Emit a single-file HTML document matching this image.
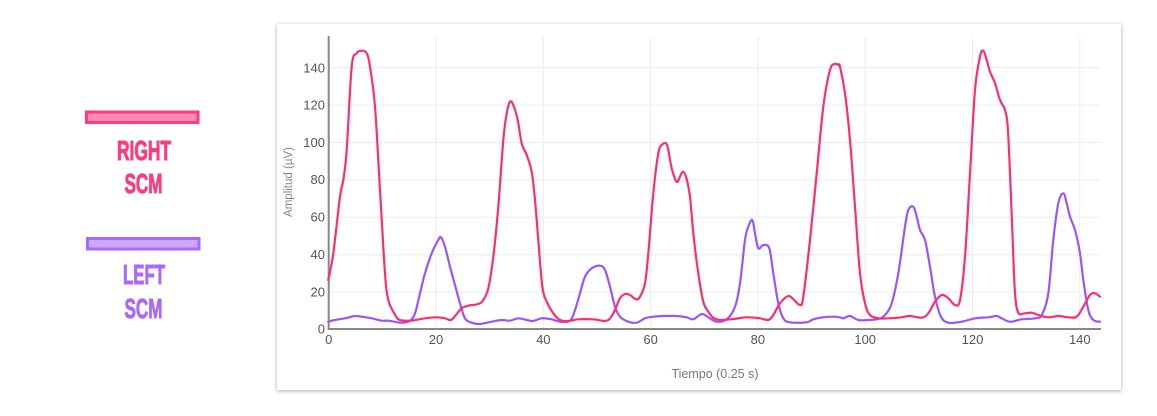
<!DOCTYPE html>
<html><head><meta charset="utf-8"><style>
html,body{margin:0;padding:0;background:#fff;}
svg{display:block;}
</style></head><body>
<svg id="chart" width="1157" height="416" viewBox="0 0 1157 416" xmlns="http://www.w3.org/2000/svg">
<defs>
<filter id="sh" x="-5%" y="-5%" width="110%" height="115%">
<feGaussianBlur in="SourceAlpha" stdDeviation="2"/>
<feOffset dx="0" dy="1"/>
<feComponentTransfer><feFuncA type="linear" slope="0.35"/></feComponentTransfer>
<feMerge><feMergeNode/><feMergeNode in="SourceGraphic"/></feMerge>
</filter>
</defs>
<rect x="0" y="0" width="1157" height="416" fill="#fff"/>
<!-- legend -->
<rect x="86.5" y="112" width="111.5" height="10.5" fill="#ff8ab3" stroke="#ff3a7e" stroke-width="3"/>
<g font-family="Liberation Sans, sans-serif" font-weight="bold" font-size="28" text-anchor="middle" stroke-width="0.9">
<text x="144" y="160" fill="#ff3a7e" stroke="#ff3a7e" textLength="54" lengthAdjust="spacingAndGlyphs">RIGHT</text>
<text x="143.5" y="193" fill="#ff3a7e" stroke="#ff3a7e" textLength="38" lengthAdjust="spacingAndGlyphs">SCM</text>
<text x="144" y="284" fill="#aa68ff" stroke="#aa68ff" textLength="42" lengthAdjust="spacingAndGlyphs">LEFT</text>
<text x="143.5" y="318" fill="#aa68ff" stroke="#aa68ff" textLength="38" lengthAdjust="spacingAndGlyphs">SCM</text>
</g>
<rect x="87.5" y="238.5" width="111.5" height="10.5" fill="#cda8ff" stroke="#aa68ff" stroke-width="3"/>
<!-- panel -->
<rect x="277" y="24" width="844" height="366" fill="#fff" filter="url(#sh)"/>
<!-- grid -->
<g stroke="#ececec" stroke-width="1">
<line x1="436" y1="37" x2="436" y2="329"/>
<line x1="543.3" y1="37" x2="543.3" y2="329"/>
<line x1="650.6" y1="37" x2="650.6" y2="329"/>
<line x1="757.9" y1="37" x2="757.9" y2="329"/>
<line x1="865.2" y1="37" x2="865.2" y2="329"/>
<line x1="972.5" y1="37" x2="972.5" y2="329"/>
<line x1="1079.8" y1="37" x2="1079.8" y2="329"/>
<line x1="329" y1="292.1" x2="1101" y2="292.1"/>
<line x1="329" y1="254.7" x2="1101" y2="254.7"/>
<line x1="329" y1="217.3" x2="1101" y2="217.3"/>
<line x1="329" y1="179.9" x2="1101" y2="179.9"/>
<line x1="329" y1="142.5" x2="1101" y2="142.5"/>
<line x1="329" y1="105.1" x2="1101" y2="105.1"/>
<line x1="329" y1="67.7" x2="1101" y2="67.7"/>
</g>
<!-- y labels -->
<g font-family="Liberation Sans, sans-serif" font-size="13" fill="#555" text-anchor="end">
<text x="325" y="333.5">0</text>
<text x="325" y="296.5">20</text>
<text x="325" y="259">40</text>
<text x="325" y="221.5">60</text>
<text x="325" y="184">80</text>
<text x="325" y="147">100</text>
<text x="325" y="109.5">120</text>
<text x="325" y="72.5">140</text>
</g>
<g font-family="Liberation Sans, sans-serif" font-size="13" fill="#555" text-anchor="middle">
<text x="328.7" y="344">0</text>
<text x="436" y="344">20</text>
<text x="543.3" y="344">40</text>
<text x="650.6" y="344">60</text>
<text x="757.9" y="344">80</text>
<text x="865.2" y="344">100</text>
<text x="972.5" y="344">120</text>
<text x="1079.8" y="344">140</text>
</g>
<text x="715" y="378" text-anchor="middle" font-family="Liberation Sans, sans-serif" font-size="12.5" fill="#777">Tiempo (0.25 s)</text>
<text transform="translate(292,182) rotate(-90)" text-anchor="middle" font-family="Liberation Sans, sans-serif" font-size="11.5" fill="#888">Amplitud (µV)</text>
<!-- axes -->
<line x1="328.7" y1="36" x2="328.7" y2="330" stroke="#888" stroke-width="2"/>
<line x1="327.7" y1="329" x2="1101" y2="329" stroke="#888" stroke-width="2"/>
<!-- purple series -->
<polyline class="s" fill="none" stroke="#9d52ff" stroke-width="2.2" stroke-linejoin="round" stroke-linecap="round" points="
328.3,321.7 335,320 345,318.3 355,316 361.7,316.7 371.7,318.3 381.7,320.7 388.3,320.7 401.7,322.7 410,320.7 415,313.3 420,293.3 425,273.3 431.7,253.3 438.3,240 441,237.3 445,246.7 450,266.7 455,285 460,303.3 465,318.3 471.7,322.7 480,324 491.7,321.7 501.7,320 510,320.7 518.3,318.3 526.7,320 533.3,321 541.7,318.3 551.7,319.3 560,321.7 570,320.7 575,310 580,293.3 585,276.7 591.7,268.3 600,265.7 605,270 610,286.7 615,306.7 620,316.7 628.3,321.7 636.7,322.7 645,318.3 653.3,316.7 663.3,316 676.7,316 686.7,317.3 693.3,319.3 701.7,314 708.3,317.3 716.7,321.7 726.7,319.3 735,306.7 740,283.3 745,240 748.3,226.7 752.3,220 755,233.3 758.3,248.3 763.3,245 769.3,248.3 773.3,273.3 778.3,303.3 783.3,318.3 790,322.3 806.7,322.3 813.3,319.3 823.3,317.3 833.3,316.7 840,317.3 843.3,318.3 850,316 858.3,320 868.3,320 878.3,319 885,315 891.7,303.3 898.3,273.3 905,226.7 908.3,210 913.3,206.7 916.7,216.7 920,230 925,240 930,266.7 935,296.7 941,316.7 948.3,322.7 961.7,321.7 975,318.3 988.3,317.3 996.7,316 1001.7,318.3 1010,321.7 1021.7,319.3 1035,318.3 1041.7,315 1048.3,293.3 1053.3,240 1058.3,203.3 1063.3,193.3 1066.7,203.3 1070,216.7 1075,230 1080,253.3 1083.3,280 1088.3,310 1093.3,320 1100,321.7"/>
<!-- red series -->
<polyline class="s" fill="none" stroke="#ff2c70" stroke-width="2.2" stroke-linejoin="round" stroke-linecap="round" points="
328.3,280 333.3,253.3 340,196.7 343.3,180 346.7,150 351.7,66.7 356.7,53.3 361.7,50.7 366.7,53.3 370,66.7 375,106.7 380,190 385,273.3 388.3,300 393.3,311.7 398.3,319.3 405,320.7 411.7,320.7 425,318.3 436.7,317.3 445,318.3 451,320 456.7,314 461.7,308.3 468.3,305.7 478.3,304 483.3,300 488.3,288.3 493.3,256.7 498.3,206.7 503.3,140 506.7,113.3 510,101.7 513.3,105 517.7,120 521.7,143.3 526.7,155 531.7,171.7 535,200 538.3,240 542.3,286.7 546.7,301.7 553.3,313.3 560,320 568.3,321 578.3,319.3 593.3,319.3 606.7,320.7 613.3,313.3 620,298.3 625,294 630,295 636,299.3 640,296.7 645,283.3 648.3,253.3 653.3,193.3 658.3,153.3 661.7,145 666,143.3 668.3,150 671.7,168.3 676.7,181.7 680,176.7 682.7,171.7 686,176.7 690,196.7 693.3,233.3 698.3,273.3 703.3,301.7 708.3,311.7 713.3,317.7 720,320 733.3,319 746.7,317.3 760,318.3 768.3,320 773.3,315 780,303.3 788.3,296 793.3,299.3 800,305 803.3,296.7 810,240 816.7,173.3 823.3,106.7 830,70 835,64 838.3,65 840,66.7 845,93.3 850,140 855,206.7 860,273.3 865,303.3 870,315 878.3,318.3 888.3,318.3 901.7,317.3 910,316 921.7,317.7 928.3,313.3 935,301.7 941.7,295 948.3,298.3 955,305 960,300 965,256.7 970,173.3 975,90 980,56.7 983.3,50.7 986.7,60 990,71.7 995,83.3 1000,100 1005,110 1007.7,126.7 1010,173.3 1012.7,240 1015,293.3 1018.3,312.7 1025,313.3 1031.7,312.7 1038.3,315 1048.3,317.3 1058.3,316 1068.3,317.3 1076.7,316.7 1083.3,306.7 1090,295 1095,293.3 1100,296.7"/>
</svg>
<script>
(function(){
  var NS="http://www.w3.org/2000/svg";
  var pls=document.querySelectorAll("polyline.s");
  for(var k=0;k<pls.length;k++){
    var pl=pls[k];
    var nums=pl.getAttribute("points").trim().split(/[\s,]+/).map(Number);
    var p=[];for(var i=0;i<nums.length;i+=2)p.push([nums[i],nums[i+1]]);
    var d="M"+p[0][0]+","+p[0][1];
    for(var i=0;i<p.length-1;i++){
      var p0=p[i>0?i-1:i],p1=p[i],p2=p[i+1],p3=p[i+2<p.length?i+2:i+1];
      var c1x=p1[0]+(p2[0]-p0[0])/6,c1y=p1[1]+(p2[1]-p0[1])/6;
      var c2x=p2[0]-(p3[0]-p1[0])/6,c2y=p2[1]-(p3[1]-p1[1])/6;
      d+=" C"+c1x.toFixed(2)+","+c1y.toFixed(2)+" "+c2x.toFixed(2)+","+c2y.toFixed(2)+" "+p2[0]+","+p2[1];
    }
    var path=document.createElementNS(NS,"path");
    path.setAttribute("d",d);
    ["fill","stroke","stroke-width","stroke-linejoin","stroke-linecap"].forEach(function(a){path.setAttribute(a,pl.getAttribute(a));});
    pl.parentNode.replaceChild(path,pl);
  }
})();
</script>
</body></html>
